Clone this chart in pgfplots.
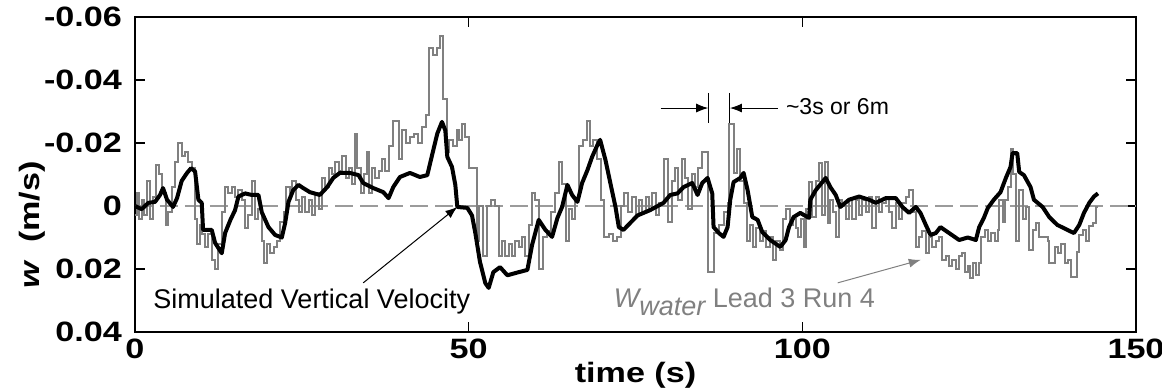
\documentclass[border=0pt]{standalone}
\usepackage{fontspec}
\setmainfont{Liberation Sans}
\usepackage{graphicx}
\usepackage{pgfplots}
\pgfplotsset{compat=1.18}
\usetikzlibrary{arrows.meta}
\definecolor{dgray}{RGB}{128,128,128}
\definecolor{lgray}{RGB}{155,155,155}
\newcommand{\tl}[1]{\scalebox{1.22}[1]{#1}}
\begin{document}
\begin{tikzpicture}
\begin{axis}[
  name=ax,
  scale only axis,
  width=500.5pt, height=157.5pt,
  xmin=0, xmax=150, ymin=-0.06, ymax=0.04,
  y dir=reverse,
  scaled y ticks=false, scaled x ticks=false,
  xtick={0,50,100,150},
  xticklabels={\tl{0},\tl{50},\tl{100},\tl{150}},
  ytick={-0.06,-0.04,-0.02,0,0.02,0.04},
  yticklabels={\tl{-0.06},\tl{-0.04},\tl{-0.02},\tl{0},\tl{0.02},\tl{0.04}},
  tick align=inside,
  major tick length=5pt,
  axis line style={line width=1pt},
  every tick/.style={line width=0.6pt, black},
  xticklabel style={font=\fontsize{14}{16}\selectfont\bfseries},
  yticklabel style={font=\fontsize{14}{16}\selectfont\bfseries, xshift=-3pt},
  xlabel={\scalebox{1.22}[1]{\bfseries time (s)}},
  xlabel style={at={(axis description cs:0.5,0)}, anchor=center, yshift=-21.5pt, font=\fontsize{14}{16}\selectfont},
  ylabel={\scalebox{1.22}[1]{\bfseries\itshape w\upshape\ \ (m/s)}},
  ylabel style={at={(axis description cs:-0.103,0.34)}, anchor=center, font=\fontsize{14}{16}\selectfont},
]
% zero reference line
\addplot[lgray, line width=0.6pt, dash pattern=on 9pt off 3.5pt] coordinates {(0,0) (150,0)};
% W_water Lead 3 Run 4 (gray)
\addplot[dgray, line width=1pt, const plot] coordinates {
(0,0.003) (0.3,-0.004) (0.6,0.004) (1.0,-0.002) (1.4,0.003) (1.8,-0.008) (2.3,0.004) (2.7,-0.003)
(3.2,-0.013) (3.6,-0.010) (4.0,-0.004) (4.6,0.006) (5.0,0.002) (5.5,-0.006) (6.0,-0.014) (6.5,-0.020)
(7.0,-0.016) (7.5,-0.017) (8.0,-0.014) (8.5,-0.012) (9.0,0.004) (9.3,0.012) (9.7,0.006) (10.0,0.009)
(10.5,0.013) (11.0,0.009) (11.5,0.017) (12.0,0.020) (12.5,0.012) (13.0,0.002) (13.5,-0.006) (14.0,-0.004)
(14.5,-0.006) (15.0,-0.003) (15.5,-0.005) (16.0,-0.002) (16.5,0.007) (17.0,0.003) (17.5,-0.008) (18.0,0.004)
(18.5,0.001) (19.0,0.011) (19.4,0.018) (19.8,0.012) (20.3,0.015) (20.8,0.013) (21.3,0.011) (21.8,0.005)
(22.3,0.002) (22.7,-0.006) (23.2,-0.004) (23.6,-0.008) (24.1,-0.002) (24.6,0.002) (25.0,-0.003) (25.5,0.002)
(26.0,-0.002) (26.5,0.003) (27.0,-0.004) (27.5,0.001) (28.0,-0.009) (28.5,-0.006) (29.0,-0.012) (29.5,-0.010)
(30.0,-0.014) (30.5,-0.011) (31.0,-0.016) (31.6,-0.009) (32.0,-0.012) (32.5,-0.007) (33.0,-0.023) (33.3,-0.012)
(33.8,-0.004) (34.3,-0.010) (34.7,-0.017) (35.1,-0.004) (35.5,-0.012) (36.0,-0.009) (36.5,-0.011) (37.0,-0.015)
(37.5,-0.011) (38.0,-0.019) (38.6,-0.027) (39.5,-0.015) (40.0,-0.024) (40.6,-0.020) (41.2,-0.022) (41.8,-0.023)
(42.4,-0.020) (43.0,-0.025) (43.6,-0.029) (44.1,-0.050) (44.6,-0.048) (45.2,-0.050) (45.7,-0.054) (46.1,-0.034)
(46.8,-0.017) (47.1,-0.021) (47.6,-0.019) (48.2,-0.024) (48.6,-0.021) (49.0,-0.026) (49.5,-0.022) (50.0,-0.012)
(50.6,-0.012) (51.2,0.011) (51.6,0.000) (52.2,0.016) (52.7,0.000) (53.3,-0.002) (53.9,0.000) (54.5,0.016)
(55.0,0.011) (55.5,0.016) (56.0,0.012) (56.5,0.016) (57.0,0.011) (57.5,0.013) (58.0,0.010) (58.5,0.016)
(59.0,0.006) (59.5,-0.004) (60.0,-0.002) (60.6,0.020) (61.2,0.010) (61.8,0.008) (62.4,0.002) (63.0,-0.004)
(63.5,-0.014) (64.0,-0.007) (64.6,0.011) (65.0,0.001) (65.5,0.004) (66.0,-0.002) (66.5,-0.019) (67.1,-0.021)
(67.7,-0.027) (68.2,-0.019) (68.7,-0.021) (69.3,-0.015) (69.8,-0.002) (70.3,0.010) (71.0,0.009) (71.6,0.011)
(72.2,0.010) (72.8,0.000) (73.3,-0.004) (73.9,0.002) (74.5,-0.003) (75.0,0.003) (75.5,-0.002) (76.0,0.002)
(76.5,-0.003) (77.0,0.001) (77.5,-0.004) (78.0,0.003) (78.5,-0.001) (79.3,-0.015) (79.9,0.005) (80.4,-0.008)
(80.9,-0.012) (81.4,-0.002) (81.9,-0.015) (82.4,-0.009) (82.9,0.001) (83.4,-0.010) (83.9,-0.006) (84.4,-0.012)
(84.9,-0.017) (85.9,0.021) (86.7,0.0086) (87.5,0.006) (88.2,0.002) (88.8,-0.001) (89.0,-0.026) (89.7,-0.0105)
(90.2,-0.018) (90.6,-0.008) (91.2,-0.001) (91.7,0.011) (92.2,0.006) (92.6,0.013) (93.1,0.007) (93.6,0.011)
(94.1,0.008) (94.6,0.013) (95.1,0.010) (95.6,0.017) (96.1,0.011) (96.6,0.014) (97.1,0.004) (97.6,0.001)
(98.1,0.006) (98.6,0.004) (99.0,0.007) (99.4,0.0098) (99.8,0.004) (100.2,0.013) (100.6,0.001) (101.0,-0.0076)
(101.5,0.0035) (102.0,-0.008) (102.5,-0.0137) (103.0,0.003) (103.4,-0.014) (103.8,0.0054) (104.2,-0.002) (104.6,0.002)
(105.0,0.0098) (105.5,-0.002) (106.0,0.000) (106.5,0.004) (107.0,-0.002) (107.5,0.004) (108.0,-0.002) (108.5,0.003)
(109.0,-0.002) (109.5,0.002) (110.0,-0.003) (110.5,0.007) (111.0,-0.003) (111.5,0.002) (112.0,-0.001) (112.5,-0.003)
(113.0,0.002) (113.5,0.007) (114.0,-0.001) (114.5,0.004) (115.0,-0.001) (115.5,-0.003) (116.0,-0.005) (116.6,0.002)
(117.0,0.013) (117.5,0.010) (118.0,0.008) (118.5,0.015) (119.0,0.010) (119.5,0.013) (120.0,0.011) (120.5,0.010)
(121.0,0.017) (121.5,0.016) (122.0,0.019) (122.5,0.017) (123.0,0.020) (123.5,0.016) (124.0,0.015) (124.3,0.021)
(124.8,0.019) (125.1,0.023) (125.6,0.018) (126.0,0.022) (126.5,0.018) (126.8,0.010) (127.3,0.0076) (127.8,0.011)
(128.3,0.0086) (128.8,0.011) (129.3,0.0076) (129.5,-0.002) (130.0,0.005) (130.3,-0.002) (130.8,-0.006) (131.2,-0.018)
(131.5,-0.010) (132.0,0.011) (132.5,-0.005) (133.0,0.004) (133.5,0.0003) (134.0,0.014) (134.5,0.0076) (135.0,0.0055)
(135.5,0.0098) (136.2,0.010) (136.8,0.011) (137.0,0.018) (137.8,0.013) (138.3,0.015) (138.8,0.012) (139.3,0.018)
(139.8,0.017) (140.3,0.0225) (141.1,0.0146) (141.5,0.0092) (142.0,0.0076) (142.5,0.011) (143.0,0.0065) (143.5,0.0055)
(144.0,0.0003) (144.3,0.0003)
};
% Simulated vertical velocity (black)
\addplot[black, line width=2pt, line join=round] coordinates {
(0,0) (1,0.001) (2,-0.001) (3,-0.0013) (3.75,-0.0035) (4.2,-0.0057) (4.8,-0.002) (5.7,0.0003) (6.3,-0.0025)
(7,-0.008) (7.8,-0.0105) (8.4,-0.012) (9,-0.011) (9.5,-0.002) (10,-0.001) (10.2,0.0076) (11.5,0.0076) (12,0.0117)
(13,0.015) (13.5,0.0086) (14.3,0.0044) (15,0.0013) (15.5,-0.003) (16.5,-0.004) (17.5,-0.0035) (18.5,-0.0035)
(19,0.002) (20,0.0067) (21,0.0092) (22,0.010) (22.5,0.0054) (23,-0.0013) (23.7,-0.005) (24.5,-0.0067) (25.2,-0.0057)
(26.2,-0.0044) (27.7,-0.0035) (28.8,-0.006) (29.7,-0.0089) (30.7,-0.0105) (32.2,-0.0105) (33.5,-0.0098) (34.2,-0.0073)
(35.7,-0.0057) (37.2,-0.0044) (38,-0.0025) (38.7,-0.006) (39.7,-0.0092) (41.2,-0.0105) (42.7,-0.0092) (43.8,-0.0098)
(44.5,-0.016) (45.3,-0.023) (46,-0.0267) (46.5,-0.024) (46.8,-0.0156) (47.5,-0.0124) (48,-0.0067) (48.3,0.0003)
(49.8,0.0006) (50.5,0.003) (51,0.0086) (51.7,0.0178) (52.5,0.0245) (53,0.026) (53.7,0.021) (54.7,0.0194) (55.8,0.022)
(57.5,0.021) (58.8,0.0203) (59.5,0.0124) (60.5,0.0044) (61.5,0.0076) (62.5,0.0098) (63.3,0.0038) (64,0.0003)
(64.8,-0.0067) (65.5,-0.0035) (66.3,-0.0013) (67,-0.0073) (67.8,-0.0114) (68.5,-0.0156) (69.3,-0.0194) (69.7,-0.021)
(70.5,-0.0146) (71.2,-0.0076) (72,0.0003) (72.5,0.0067) (73.2,0.0076) (74.2,0.0054) (75.3,0.003) (77.2,0.0013)
(79.2,-0.001) (80.2,-0.0035) (81.3,-0.004) (82.2,-0.006) (83.5,-0.0073) (84.3,-0.0035) (85,-0.0073) (85.8,-0.0089)
(86.5,-0.004) (86.7,0.0067) (87.5,0.0086) (88.2,0.0098) (88.8,0.0067) (89.2,-0.002) (89.7,-0.0076) (90.7,-0.0089)
(91.2,-0.0105) (91.8,-0.005) (92.5,0.0035) (93.3,0.0044) (94,0.0083) (95.2,0.0108) (96.7,0.013) (97.5,0.0108)
(98,0.0067) (98.7,0.0035) (99.7,0.0022) (101,0.0038) (101.2,-0.002) (102,-0.005) (103.5,-0.0089) (104.2,-0.006)
(105,-0.0035) (105.7,0.0003) (107,-0.002) (108.5,-0.003) (110,-0.002) (111,-0.001) (112.5,-0.0025) (114,-0.0025)
(115,0.0003) (116,0.0022) (117,0.0003) (117.7,0.0022) (118.5,0.006) (119.2,0.0092) (120,0.0086) (120.7,0.0067)
(122,0.0086) (123.5,0.0108) (124.8,0.010) (126,0.0108) (126.5,0.0067) (127.2,0.0038) (127.8,0.0006) (128.7,-0.002)
(129.7,-0.0044) (130.5,-0.0089) (131.2,-0.0124) (131.5,-0.0168) (132.2,-0.0168) (132.5,-0.0108) (133.2,-0.0098)
(134.2,-0.006) (134.7,-0.002) (136,0.0003) (137,0.0035) (138.2,0.006) (140.7,0.0086) (141.5,0.006) (142.2,0.0022)
(143,-0.001) (143.7,-0.003) (144.3,-0.004)
};
% annotations
\draw[black, line width=0.5pt, -{Latex[length=6pt,width=4.5pt]}] (axis cs:34.2,0.0244) -- (axis cs:48.3,0.0003);
\node[anchor=base west, inner sep=0pt, font=\fontsize{13.5}{15}\selectfont] at (axis cs:2.7,0.0324) {Simulated Vertical Velocity};
\draw[dgray, line width=0.5pt, -{Latex[length=6pt,width=4.5pt]}] (axis cs:105.3,0.0244) -- (axis cs:117.75,0.0171);
\node[anchor=base west, inner sep=0pt, text=dgray, font=\fontsize{13.5}{15}\selectfont] at (axis cs:71.7,0.0322) {\itshape W\raisebox{-4pt}{water}\upshape\ Lead 3 Run 4};
\draw[black, line width=0.5pt] (axis cs:85.9,-0.0359) -- (axis cs:85.9,-0.0264);
\draw[black, line width=0.5pt] (axis cs:89.15,-0.0359) -- (axis cs:89.15,-0.0264);
\draw[black, line width=0.5pt, -{Latex[length=6pt,width=4.5pt]}] (axis cs:78.75,-0.0311) -- (axis cs:85.9,-0.0311);
\draw[black, line width=0.5pt, -{Latex[length=6pt,width=4.5pt]}] (axis cs:96.3,-0.0311) -- (axis cs:89.15,-0.0311);
\node[anchor=base west, inner sep=0pt, font=\fontsize{11.5}{13}\selectfont] at (axis cs:97.5,-0.0289) {\textasciitilde 3s or 6m};
\end{axis}
\pgfresetboundingbox
\path[use as bounding box] ([xshift=-67.5pt, yshift=-29pt]ax.south west) rectangle ([xshift=13pt, yshift=8.5pt]ax.north east);
\end{tikzpicture}
\end{document}
